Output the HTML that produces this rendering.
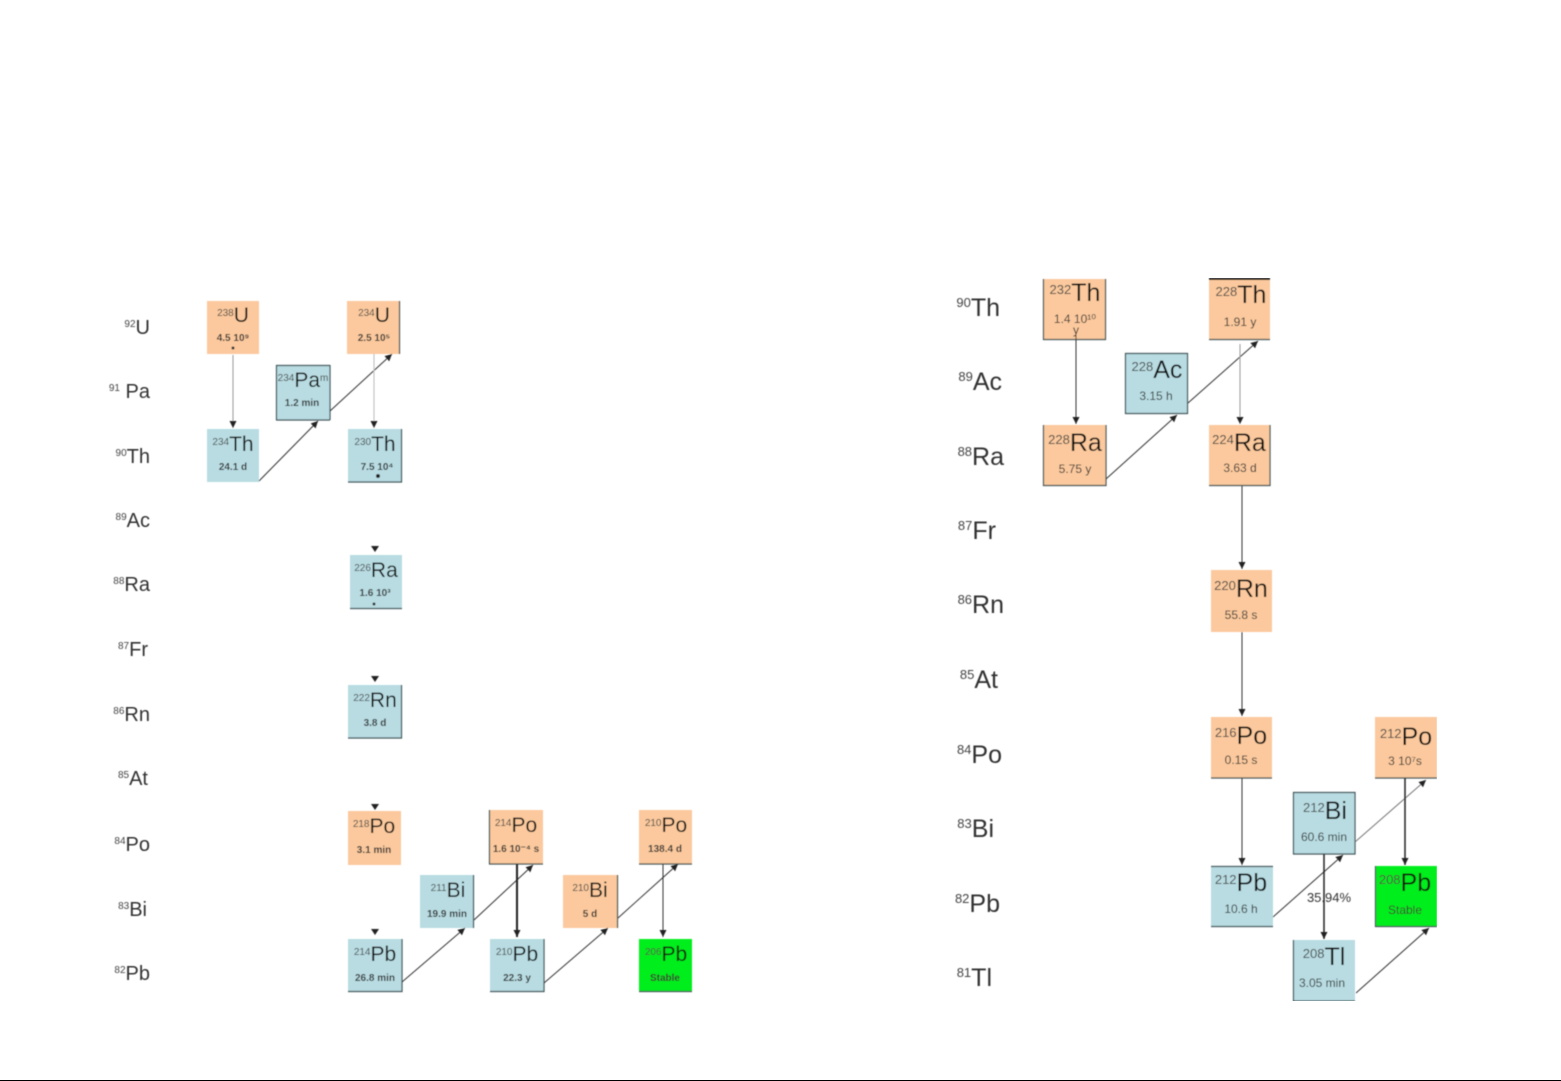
<!DOCTYPE html>
<html><head><meta charset="utf-8"><title>Decay chains</title>
<style>
html,body{margin:0;padding:0;background:#fff;width:1561px;height:1081px;overflow:hidden}
svg{display:block;font-family:"Liberation Sans",sans-serif}
.o{fill:#fbc99d}.b{fill:#b8dce2}.g{fill:#06ee1e}
.e{stroke:#3d5255;stroke-width:1.2;fill:none}
.a{stroke:#333;stroke-width:1;fill:none;marker-end:url(#h)}
.l{stroke:#999;stroke-width:1;fill:none;marker-end:url(#h)}
.k{stroke:#222;stroke-width:2;fill:none;marker-end:url(#h)}
text{fill:#222}
.L{font-size:20px;text-anchor:end;fill:#333}.R{font-size:25px;text-anchor:end;fill:#333}
.n{font-size:21px;text-anchor:middle;fill:#111}.m{font-size:25px;text-anchor:middle;fill:#111}
.t{font-size:10px;text-anchor:middle;fill:#333;font-weight:bold}.u{font-size:12px;text-anchor:middle;fill:#333}
.s{font-size:10px;fill:#444}.S{font-size:13px;fill:#444}
</style></head><body>
<svg width="1561" height="1081" viewBox="0 0 1561 1081" xmlns="http://www.w3.org/2000/svg">
<defs>
<marker id="h" markerUnits="userSpaceOnUse" markerWidth="8" markerHeight="8" refX="7" refY="3.500" orient="auto"><path d="M0 0L7 3.500L0 7Z" fill="#222"/></marker>
<filter id="f" x="0" y="0" width="100%" height="100%"><feGaussianBlur stdDeviation="0.55"/></filter>
</defs>
<rect width="1561" height="1081" fill="#fff"/>
<g filter="url(#f)">
<!-- left boxes -->
<rect class="o" x="207" y="301" width="52" height="53"/>
<rect class="o" x="347" y="301" width="53" height="53"/>
<rect class="b" x="276" y="365" width="54" height="55"/>
<rect class="b" x="207" y="429" width="52" height="53"/>
<rect class="b" x="348" y="429" width="54" height="53"/>
<rect class="b" x="350" y="555" width="52" height="54"/>
<rect class="b" x="348" y="685" width="54" height="53"/>
<rect class="o" x="348" y="811" width="53" height="54"/>
<rect class="o" x="489" y="810" width="54" height="54"/>
<rect class="o" x="639" y="810" width="53" height="54"/>
<rect class="b" x="420" y="875" width="54" height="53"/>
<rect class="o" x="563" y="875" width="55" height="53"/>
<rect class="b" x="348" y="939" width="54" height="53"/>
<rect class="b" x="490" y="939" width="54" height="53"/>
<rect class="g" x="639" y="939" width="53" height="53"/>
<!-- right boxes -->
<rect class="o" x="1043" y="279" width="63" height="61"/>
<rect class="o" x="1209" y="279" width="61" height="61"/>
<rect class="b" x="1125" y="353" width="63" height="61"/>
<rect class="o" x="1043" y="425" width="63" height="61"/>
<rect class="o" x="1209" y="425" width="61" height="61"/>
<rect class="o" x="1211" y="570" width="61" height="62"/>
<rect class="o" x="1211" y="717" width="61" height="61"/>
<rect class="o" x="1375" y="717" width="62" height="61"/>
<rect class="b" x="1293" y="792" width="62" height="62"/>
<rect class="b" x="1211" y="866" width="62" height="61"/>
<rect class="g" x="1375" y="866" width="62" height="61"/>
<rect class="b" x="1293" y="940" width="62" height="61"/>
<!-- dark edges -->
<path class="e" d="M276.500 420V365.500H330M276 420H330M399.500 301V354M401.500 429V482H348M401.500 685V738H348M350 608.500H402M330 365V420"/>
<path class="e" d="M473.500 875V928M489.500 810V864H543M617.500 875V928M348 991.500H402V939M490 991.500H544V939M639 991.500H692M639 864H692"/>
<path class="e" d="M1043.500 279V339.500H1105.500V279M1209 339.500H1270M1125.500 353.500H1187.500V413.500H1125.500ZM1043.500 425V485.500H1106V425M1209 485.500H1270V425"/>
<path class="e" d="M1293.500 792.500H1355V854H1293.500ZM1211 926.500H1273M1211 866.500H1273M1293.500 940V1001H1355M1375 926.500H1437M1375.500 866V927M1375 778H1437M1211 778H1272"/>
<rect x="1209" y="278" width="61" height="2" fill="#111"/>
<!-- left arrows -->
<path class="l" d="M233 355V428"/>
<path class="a" d="M259 481L318 421"/>
<path class="a" d="M330 411L392 354"/>
<path class="l" style="stroke:#bbb" d="M374 354V428"/>
<path class="a" d="M402 982L465 928"/>
<path class="a" d="M474 920L533 865"/>
<path class="k" d="M517 864V937"/>
<path class="a" d="M544 983L608 928"/>
<path class="a" d="M618 918L678 864"/>
<path class="a" d="M663 864V937"/>
<path d="M371 546h8l-4 6ZM371 676h8l-4 6ZM371 804h8l-4 6ZM371 929h8l-4 6Z" fill="#222"/>
<circle cx="233" cy="348" r="1.500" fill="#333"/><circle cx="378" cy="476" r="2" fill="#222"/><circle cx="374" cy="604" r="1.500" fill="#333"/>
<!-- right arrows -->
<path class="a" d="M1076 335V424"/>
<path class="a" d="M1106 479L1177 415"/>
<path class="a" d="M1188 403L1258 341"/>
<path class="l" d="M1240 344V424"/>
<path class="a" d="M1242 486V569"/>
<path class="a" d="M1242 632V716"/>
<path class="a" d="M1242 778V865"/>
<path class="a" d="M1273 917L1343 855"/>
<path class="l" style="stroke:#777" d="M1355 842L1426 780"/>
<path class="k" style="stroke-width:1.500" d="M1405 778V865"/>
<path class="k" style="stroke-width:1.500" d="M1324 854V939"/>
<path class="a" d="M1356 993L1429 928"/>
<!-- left row labels -->
<text class="L" x="150" y="334"><tspan class="s" dy="-7">92</tspan><tspan dy="7">U</tspan></text>
<text class="L" x="150" y="398"><tspan class="s" dy="-7">91</tspan><tspan dy="7"> Pa</tspan></text>
<text class="L" x="150" y="463"><tspan class="s" dy="-7">90</tspan><tspan dy="7">Th</tspan></text>
<text class="L" x="150" y="527"><tspan class="s" dy="-7">89</tspan><tspan dy="7">Ac</tspan></text>
<text class="L" x="150" y="591"><tspan class="s" dy="-7">88</tspan><tspan dy="7">Ra</tspan></text>
<text class="L" x="148" y="656"><tspan class="s" dy="-7">87</tspan><tspan dy="7">Fr</tspan></text>
<text class="L" x="150" y="721"><tspan class="s" dy="-7">86</tspan><tspan dy="7">Rn</tspan></text>
<text class="L" x="148" y="785"><tspan class="s" dy="-7">85</tspan><tspan dy="7">At</tspan></text>
<text class="L" x="150" y="851"><tspan class="s" dy="-7">84</tspan><tspan dy="7">Po</tspan></text>
<text class="L" x="147" y="916"><tspan class="s" dy="-7">83</tspan><tspan dy="7">Bi</tspan></text>
<text class="L" x="150" y="980"><tspan class="s" dy="-7">82</tspan><tspan dy="7">Pb</tspan></text>
<!-- right row labels -->
<text class="R" x="1000" y="316"><tspan class="S" dy="-9">90</tspan><tspan dy="9">Th</tspan></text>
<text class="R" x="1002" y="390"><tspan class="S" dy="-9">89</tspan><tspan dy="9">Ac</tspan></text>
<text class="R" x="1004" y="465"><tspan class="S" dy="-9">88</tspan><tspan dy="9">Ra</tspan></text>
<text class="R" x="996" y="539"><tspan class="S" dy="-9">87</tspan><tspan dy="9">Fr</tspan></text>
<text class="R" x="1004" y="613"><tspan class="S" dy="-9">86</tspan><tspan dy="9">Rn</tspan></text>
<text class="R" x="998" y="688"><tspan class="S" dy="-9">85</tspan><tspan dy="9">At</tspan></text>
<text class="R" x="1002" y="763"><tspan class="S" dy="-9">84</tspan><tspan dy="9">Po</tspan></text>
<text class="R" x="994" y="837"><tspan class="S" dy="-9">83</tspan><tspan dy="9">Bi</tspan></text>
<text class="R" x="1000" y="912"><tspan class="S" dy="-9">82</tspan><tspan dy="9">Pb</tspan></text>
<text class="R" x="992" y="986"><tspan class="S" dy="-9">81</tspan><tspan dy="9">Tl</tspan></text>
<!-- left nuclides -->
<text class="n" x="233" y="322"><tspan class="s" dy="-6">238</tspan><tspan dy="6">U</tspan></text><text class="t" x="233" y="341">4.5 10⁹</text>
<text class="n" x="374" y="322"><tspan class="s" dy="-6">234</tspan><tspan dy="6">U</tspan></text><text class="t" x="374" y="341">2.5 10⁵</text>
<text class="n" x="303" y="387"><tspan class="s" dy="-6">234</tspan><tspan dy="6">Pa</tspan><tspan class="s" dy="-6">m</tspan></text><text class="t" x="302" y="406">1.2 min</text>
<text class="n" x="233" y="451"><tspan class="s" dy="-6">234</tspan><tspan dy="6">Th</tspan></text><text class="t" x="233" y="470">24.1 d</text>
<text class="n" x="375" y="451"><tspan class="s" dy="-6">230</tspan><tspan dy="6">Th</tspan></text><text class="t" x="377" y="470">7.5 10⁴</text>
<text class="n" x="376" y="577"><tspan class="s" dy="-6">226</tspan><tspan dy="6">Ra</tspan></text><text class="t" x="375" y="596">1.6 10³</text>
<text class="n" x="375" y="707"><tspan class="s" dy="-6">222</tspan><tspan dy="6">Rn</tspan></text><text class="t" x="375" y="726">3.8 d</text>
<text class="n" x="374" y="833"><tspan class="s" dy="-6">218</tspan><tspan dy="6">Po</tspan></text><text class="t" x="374" y="853">3.1 min</text>
<text class="n" x="516" y="832"><tspan class="s" dy="-6">214</tspan><tspan dy="6">Po</tspan></text><text class="t" x="516" y="852">1.6 10⁻⁴ s</text>
<text class="n" x="666" y="832"><tspan class="s" dy="-6">210</tspan><tspan dy="6">Po</tspan></text><text class="t" x="665" y="852">138.4 d</text>
<text class="n" x="448" y="897"><tspan class="s" dy="-6">211</tspan><tspan dy="6">Bi</tspan></text><text class="t" x="447" y="917">19.9 min</text>
<text class="n" x="590" y="897"><tspan class="s" dy="-6">210</tspan><tspan dy="6">Bi</tspan></text><text class="t" x="590" y="917">5 d</text>
<text class="n" x="375" y="961"><tspan class="s" dy="-6">214</tspan><tspan dy="6">Pb</tspan></text><text class="t" x="375" y="981">26.8 min</text>
<text class="n" x="517" y="961"><tspan class="s" dy="-6">210</tspan><tspan dy="6">Pb</tspan></text><text class="t" x="517" y="981">22.3 y</text>
<text class="n" x="666" y="961"><tspan class="s" dy="-6">206</tspan><tspan dy="6">Pb</tspan></text><text class="t" x="665" y="981">Stable</text>
<!-- right nuclides -->
<text class="m" x="1075" y="301"><tspan class="S" dy="-7">232</tspan><tspan dy="7">Th</tspan></text><text class="u" x="1075" y="323">1.4 10¹⁰</text><text class="u" x="1076" y="334">y</text>
<text class="m" x="1241" y="303"><tspan class="S" dy="-7">228</tspan><tspan dy="7">Th</tspan></text><text class="u" x="1240" y="326">1.91 y</text>
<text class="m" x="1157" y="378"><tspan class="S" dy="-7">228</tspan><tspan dy="7">Ac</tspan></text><text class="u" x="1156" y="400">3.15 h</text>
<text class="m" x="1075" y="451"><tspan class="S" dy="-7">228</tspan><tspan dy="7">Ra</tspan></text><text class="u" x="1075" y="473">5.75 y</text>
<text class="m" x="1239" y="451"><tspan class="S" dy="-7">224</tspan><tspan dy="7">Ra</tspan></text><text class="u" x="1240" y="472">3.63 d</text>
<text class="m" x="1241" y="597"><tspan class="S" dy="-7">220</tspan><tspan dy="7">Rn</tspan></text><text class="u" x="1241" y="619">55.8 s</text>
<text class="m" x="1241" y="744"><tspan class="S" dy="-7">216</tspan><tspan dy="7">Po</tspan></text><text class="u" x="1241" y="764">0.15 s</text>
<text class="m" x="1406" y="745"><tspan class="S" dy="-7">212</tspan><tspan dy="7">Po</tspan></text><text class="u" x="1405" y="765">3 10⁷s</text>
<text class="m" x="1325" y="819"><tspan class="S" dy="-7">212</tspan><tspan dy="7">Bi</tspan></text><text class="u" x="1324" y="841">60.6 min</text>
<text class="m" x="1241" y="891"><tspan class="S" dy="-7">212</tspan><tspan dy="7">Pb</tspan></text><text class="u" x="1241" y="913">10.6 h</text>
<text class="m" x="1405" y="891"><tspan class="S" dy="-7">208</tspan><tspan dy="7">Pb</tspan></text><text class="u" x="1405" y="914">Stable</text>
<text class="m" x="1324" y="965"><tspan class="S" dy="-7">208</tspan><tspan dy="7">Tl</tspan></text><text class="u" x="1322" y="987">3.05 min</text>
<text class="u" style="font-size:13px" x="1329" y="902">35.94%</text>
</g>
<rect x="0" y="1080" width="1561" height="1" fill="#000"/>
</svg>
</body></html>
